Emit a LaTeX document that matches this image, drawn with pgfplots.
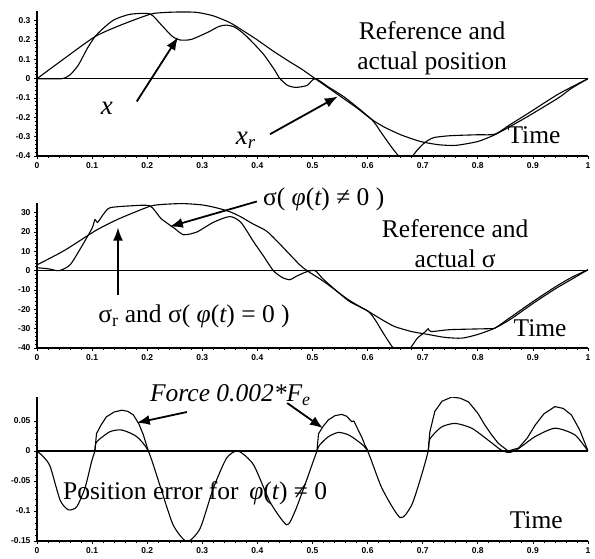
\documentclass[border=0pt]{standalone}
\usepackage{fontspec}
\setmainfont{Liberation Serif}
\setsansfont{Liberation Sans}
\usepackage{pgfplots}
\pgfplotsset{compat=1.18}
\usetikzlibrary{arrows.meta}

\pgfplotsset{
  panel/.style={
    scale only axis, width=551pt, height=145pt,
    anchor=south west,
    xmin=0, xmax=1,
    axis x line=bottom, axis y line=left,
    axis line style={-, line width=1.2pt},
    tick align=outside,
    xtick={0,0.1,0.2,0.3,0.4,0.5,0.6,0.7,0.8,0.9,1},
    minor x tick num=4, minor y tick num=4,
    major tick length=3pt, minor tick length=2pt,
    tick style={line width=0.8pt, black},
    ticklabel style={font=\fontsize{8.5}{9}\selectfont\sffamily\bfseries},
    scaled ticks=false,
    /pgf/number format/fixed,
    /pgf/number format/assume math mode=true,
    clip mode=individual,
  },
  cv/.style={black, solid, line width=1.1pt, mark=none},
}
\tikzset{
  ann/.style={font=\fontsize{25.5}{30}\selectfont, align=center, inner sep=0pt},
  arr/.style={-{Latex[length=13pt,width=10pt]}, line width=1.8pt},
}

\begin{document}
\begin{tikzpicture}
\useasboundingbox (0,0) rectangle (595pt,-558pt);

% ---------- position ----------
\begin{axis}[panel, at={(37pt,-156pt)}, ymin=-0.4, ymax=0.35,
  ytick={-0.4,-0.3,-0.2,-0.1,0,0.1,0.2,0.3}]
\addplot[cv] coordinates {(0,0) (1,0)};
% reference x_r
\addplot[cv, smooth, tension=0.4] coordinates {
 (0,0) (0.05,0.105) (0.105,0.217) (0.15,0.275) (0.205,0.333) (0.23,0.342)
 (0.26,0.345) (0.29,0.343) (0.32,0.325) (0.35,0.29) (0.373,0.25) (0.40,0.2)
 (0.43,0.14) (0.46,0.085) (0.48,0.05) (0.505,0) (0.53,-0.05) (0.56,-0.11)
 (0.58,-0.15) (0.607,-0.21) (0.63,-0.25) (0.66,-0.29) (0.69,-0.32) (0.704,-0.33)
 (0.73,-0.342) (0.76,-0.345) (0.8,-0.325) (0.831,-0.29) (0.86,-0.245)
 (0.891,-0.195) (0.946,-0.1) (0.97,-0.05) (1,0)};
% actual x
\addplot[cv, smooth, tension=0.4] coordinates {
 (0,0) (0.045,0) (0.06,0.02) (0.075,0.07) (0.09,0.15) (0.105,0.217) (0.12,0.26)
 (0.14,0.305) (0.169,0.333) (0.205,0.335) (0.225,0.28) (0.245,0.22) (0.26,0.2)
 (0.28,0.203) (0.31,0.24) (0.33,0.27) (0.344,0.277) (0.36,0.265) (0.38,0.22)
 (0.41,0.13) (0.43,0.05) (0.441,0) (0.455,-0.035) (0.47,-0.045) (0.49,-0.035)
 (0.505,0) (0.53,-0.045) (0.56,-0.1) (0.607,-0.21) (0.625,-0.28) (0.645,-0.36)
 (0.66,-0.41) (0.675,-0.42) (0.69,-0.37) (0.704,-0.33) (0.72,-0.305)
 (0.75,-0.295) (0.8,-0.29) (0.831,-0.287) (0.86,-0.235) (0.891,-0.18)
 (0.946,-0.08) (1,0)};
\node[ann] at (axis cs:0.717,0.159) {Reference and\\actual position};
\node[ann] at (axis cs:0.902,-0.292) {Time};
\node[font=\fontsize{27}{30}\selectfont\itshape, inner sep=0pt] at (axis cs:0.127,-0.155) {x};
\node[font=\fontsize{27}{30}\selectfont\itshape, inner sep=0pt] at (axis cs:0.379,-0.32) {x\textsubscript{r}};
\draw[arr] (axis cs:0.181,-0.118) -- (axis cs:0.256,0.215);
\draw[arr] (axis cs:0.423,-0.287) -- (axis cs:0.546,-0.092);
\end{axis}

% ---------- sigma ----------
\begin{axis}[panel, at={(37pt,-348pt)}, ymin=-40, ymax=35,
  ytick={-40,-30,-20,-10,0,10,20,30}]
\addplot[cv] coordinates {(0,0) (1,0)};
% reference sigma_r
\addplot[cv, smooth, tension=0.4] coordinates {
 (0,3) (0.05,10.5) (0.108,21) (0.15,27) (0.205,33.3) (0.23,34.3) (0.265,34.7)
 (0.3,34) (0.326,32.5) (0.35,30.5) (0.369,28) (0.39,24.5) (0.417,20.4) (0.44,14)
 (0.46,8) (0.477,3) (0.49,0) (0.52,-5.5) (0.565,-15) (0.601,-21) (0.63,-26)
 (0.65,-29) (0.68,-31.5) (0.71,-33) (0.74,-34.5) (0.771,-34.9) (0.8,-33)
 (0.831,-29.7) (0.86,-25) (0.9,-17) (0.94,-9.5) (0.97,-4.5) (1,0.5)};
% actual sigma
\addplot[cv, smooth, tension=0.4] coordinates {
 (0,1.5) (0.02,1) (0.04,0) (0.06,3) (0.08,12) (0.1,22) (0.105,26.4) (0.11,25)
 (0.12,29) (0.132,32.5) (0.168,33.5) (0.205,33.5) (0.225,27) (0.249,22)
 (0.266,18.6) (0.29,20) (0.32,25) (0.35,28) (0.37,25) (0.393,15) (0.41,8)
 (0.429,0) (0.445,-3.5) (0.459,-4.7) (0.47,-3) (0.49,-0.5) (0.505,0) (0.52,-4.5)
 (0.565,-15.5) (0.601,-21) (0.615,-26) (0.63,-33) (0.65,-41) (0.674,-41)
 (0.69,-35) (0.705,-31.5) (0.71,-30) (0.715,-31.5) (0.75,-30.5) (0.82,-30)
 (0.831,-29.7) (0.86,-24) (0.9,-16) (0.94,-8.5) (0.97,-3.5) (1,0.5)};
\node[ann, anchor=west] at (axis cs:0.41,36.8) {σ( {\itshape φ}({\itshape t}) ≠ 0 )};
\node[ann] at (axis cs:0.759,14.2) {Reference and\\actual σ};
\node[ann, anchor=west] at (axis cs:0.111,-23.8) {σ\textsubscript{r} and σ( {\itshape φ}({\itshape t}) = 0 )};
\node[ann] at (axis cs:0.913,-29.5) {Time};
\draw[arr] (axis cs:0.399,35.8) -- (axis cs:0.241,22.8);
\draw[arr] (axis cs:0.147,-12.4) -- (axis cs:0.147,22.3);
\end{axis}

% ---------- error and force ----------
\begin{axis}[panel, at={(37pt,-541pt)}, height=144pt, ymin=-0.15, ymax=0.09,
  ytick={-0.15,-0.1,-0.05,0,0.05}]
\addplot[cv] coordinates {(0,0) (1,0)};
% position error
\addplot[cv, smooth, tension=0.4] coordinates {
 (0,0) (0.012,-0.01) (0.024,-0.026) (0.042,-0.082) (0.057,-0.098) (0.072,-0.093)
 (0.087,-0.062) (0.099,-0.018) (0.105,0) (0.108,0.015) (0.132,0.032)
 (0.154,0.035) (0.181,0.024) (0.202,0) (0.223,-0.057) (0.247,-0.123)
 (0.272,-0.151) (0.296,-0.129) (0.32,-0.062) (0.344,-0.012) (0.365,0)
 (0.393,-0.023) (0.423,-0.085) (0.453,-0.123) (0.468,-0.101) (0.486,-0.057)
 (0.508,0) (0.513,0.01) (0.529,0.024) (0.547,0.031) (0.565,0.027)
 (0.583,0.016) (0.6,0) (0.626,-0.062) (0.659,-0.111) (0.68,-0.09)
 (0.698,-0.04) (0.71,0) (0.713,0.02) (0.734,0.04) (0.759,0.046) (0.789,0.038)
 (0.819,0.018) (0.845,0) (0.86,-0.002) (0.874,0.004) (0.904,0.024)
 (0.94,0.038) (0.976,0.027) (1,0)};
% force 0.002*Fe
\addplot[cv] coordinates {
 (0,0) (0.105,0) (0.108,0.029) (0.116,0.043) (0.126,0.057) (0.14,0.065)
 (0.154,0.068) (0.165,0.066) (0.175,0.06) (0.185,0.045) (0.193,0.027)
 (0.202,0) (0.508,0) (0.511,0.029) (0.52,0.042) (0.529,0.052) (0.541,0.059)
 (0.553,0.061) (0.562,0.058) (0.568,0.052) (0.571,0.049) (0.575,0.05)
 (0.583,0.035) (0.589,0.024) (0.595,0.01) (0.601,0) (0.71,0) (0.713,0.032)
 (0.722,0.066) (0.735,0.083) (0.753,0.09) (0.768,0.088) (0.783,0.082)
 (0.8,0.063) (0.813,0.043) (0.825,0.027) (0.837,0.013) (0.855,0) (0.874,0.005)
 (0.89,0.022) (0.904,0.043) (0.92,0.062) (0.94,0.074) (0.955,0.071)
 (0.97,0.06) (0.985,0.035) (1,0)};
\node[ann, anchor=west, font=\fontsize{25.5}{30}\selectfont\itshape] at (axis cs:0.205,0.093) {Force 0.002*F\textsubscript{e}};
\node[ann, anchor=west] at (axis cs:0.047,-0.07) {Position error for\, {\itshape φ}({\itshape t}) ≠ 0};
\node[ann] at (axis cs:0.906,-0.115) {Time};
\draw[arr] (axis cs:0.272,0.065) -- (axis cs:0.181,0.047);
\draw[arr] (axis cs:0.454,0.08) -- (axis cs:0.519,0.038);
\end{axis}
\end{tikzpicture}
\end{document}
